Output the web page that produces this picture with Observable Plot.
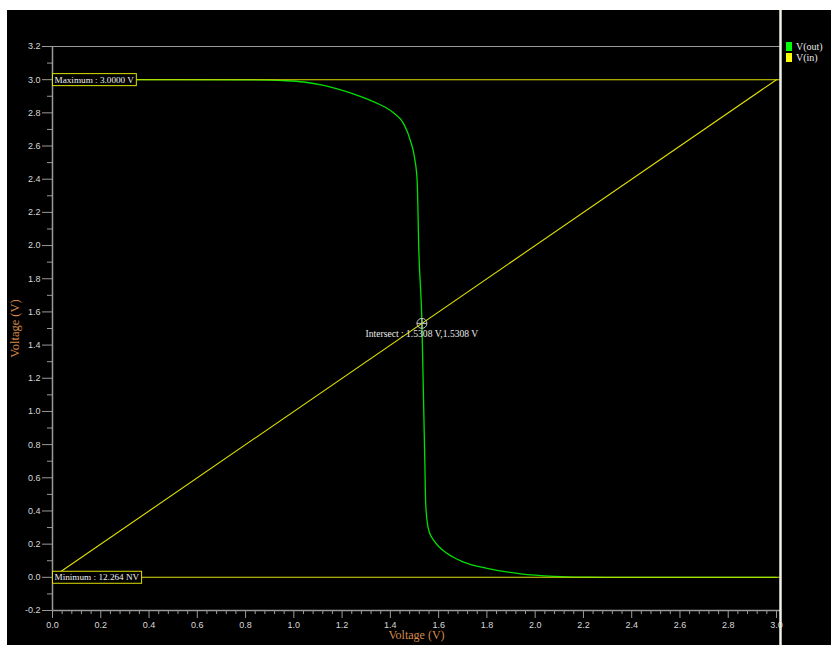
<!DOCTYPE html>
<html><head><meta charset="utf-8">
<script src="https://cdn.jsdelivr.net/npm/d3@7"></script>
<script src="https://cdn.jsdelivr.net/npm/@observablehq/plot@0.6"></script>
<style>
body{margin:0;background:#fff;}
#wrap{position:relative;width:831px;height:645px;overflow:hidden;background:#fff;}
#chart{position:absolute;left:7px;top:10px;}
#legend{position:absolute;left:786px;top:41px;font-family:"Liberation Serif",serif;font-size:10px;color:#e8e8e8;}
.item{display:flex;align-items:center;height:11px;}
.sw{width:6px;height:9px;margin-right:4px;}
</style></head><body>
<div id="wrap"><div id="chart"></div><div id="legend"></div></div>
<script>
// ---- data ----
const vinSweep   = [0.0, 0.5, 0.8, 0.958, 1.041, 1.124, 1.18, 1.249, 1.318, 1.373, 1.414, 1.456, 1.483, 1.500, 1.511, 1.518, 1.5308, 1.537, 1.543, 1.546, 1.553, 1.562, 1.58, 1.636, 1.704, 1.80, 1.94, 2.08, 2.2, 2.3, 3.0];
const voutValues = [3.0, 3.0, 2.999, 2.994, 2.986, 2.965, 2.944, 2.913, 2.875, 2.838, 2.799, 2.732, 2.633, 2.532, 2.392, 1.97, 1.5308, 1.1, 0.685, 0.46, 0.33, 0.27, 0.223, 0.143, 0.092, 0.054, 0.021, 0.006, 0.001, 0.0, 0.0];
const vinLineX = [0.0, 3.0];
const vinLineY = [0.0, 3.0];
const seriesNames = ["V(out)", "V(in)"];
const seriesColors = ["#00e000", "#e0e000"];
const legendColors = ["#00ff00", "#ffff00"];
const yTicks = [-0.2, 0.0, 0.2, 0.4, 0.6, 0.8, 1.0, 1.2, 1.4, 1.6, 1.8, 2.0, 2.2, 2.4, 2.6, 2.8, 3.0, 3.2];
const xTicks = [0.0, 0.2, 0.4, 0.6, 0.8, 1.0, 1.2, 1.4, 1.6, 1.8, 2.0, 2.2, 2.4, 2.6, 2.8, 3.0];
const yMinorTicks = d3.range(-1, 32, 2).map(i => i / 10);
const xMinorTicks = d3.range(0, 76).filter(i => i % 5 !== 0).map(i => i * 0.04);
const xDomain = [0, 3.0166];
const yDomain = [-0.2, 3.2];
const maxValue = 3.0, minValue = 12.264e-9;
const maxLabel = "Maximum : 3.0000 V";
const minLabel = "Minimum : 12.264 NV";
const intersect = {x: 1.5308, y: 1.5308, label: "Intersect : 1.5308 V,1.5308 V"};
const axisLabel = "Voltage (V)";

const voutData = vinSweep.map((v, i) => ({x: v, y: voutValues[i]}));
const vinData = vinLineX.map((v, i) => ({x: v, y: vinLineY[i]}));

const crosshair = {
  draw(ctx, size) {
    const r = Math.sqrt(size / Math.PI);
    ctx.moveTo(r, 0); ctx.arc(0, 0, r, 0, 2 * Math.PI);
    ctx.moveTo(-r, 0); ctx.lineTo(r, 0);
    ctx.moveTo(0, -r); ctx.lineTo(0, r);
  }
};

const axisColor = "#9a9a9a", labelColor = "#d8d8d8", orange = "#d4894a";
const fmt = d => d.toFixed(1);
const serif = "'Liberation Serif', 'Times New Roman', serif";

const plot = Plot.plot({
  width: 824, height: 635,
  marginLeft: 45, marginRight: 51, marginTop: 36, marginBottom: 35,
  style: {background: "black", fontFamily: "'Liberation Sans', Arial, sans-serif", fontSize: "9px", color: labelColor},
  x: {domain: xDomain, label: null},
  y: {domain: yDomain, label: null},
  marks: [
    // frame
    Plot.ruleY([yDomain[1]], {stroke: axisColor, strokeWidth: 1}),
    Plot.ruleY([yDomain[0]], {stroke: axisColor, strokeWidth: 1.5}),
    Plot.ruleX([xDomain[0]], {stroke: axisColor, strokeWidth: 1.5}),
    // axes
    Plot.axisY(yTicks, {tickSize: 10, tickPadding: 2, tickFormat: fmt, stroke: axisColor, fill: labelColor, label: null}),
    Plot.axisY(yMinorTicks, {tickSize: 5, tickFormat: () => "", stroke: axisColor, label: null}),
    Plot.axisX(xTicks, {tickSize: 8, tickPadding: 3, tickFormat: fmt, stroke: axisColor, fill: labelColor, label: null}),
    Plot.axisX(xMinorTicks, {tickSize: 4, tickFormat: () => "", stroke: axisColor, label: null}),
    // series
    Plot.line(voutData, {x: "x", y: "y", stroke: seriesColors[0], strokeWidth: 1.3, curve: "monotone-x"}),
    Plot.line(vinData, {x: "x", y: "y", stroke: seriesColors[1], strokeWidth: 1.1}),
    // max/min markers
    Plot.ruleY([maxValue, minValue], {stroke: seriesColors[1], strokeWidth: 1.1}),
    Plot.text([maxLabel], {x: xDomain[0], y: maxValue, text: d => d, textAnchor: "start", dx: 2, lineAnchor: "middle", fill: "#f0f0f0", fontFamily: serif, fontSize: 9.2}),
    Plot.text([minLabel], {x: xDomain[0], y: minValue, text: d => d, textAnchor: "start", dx: 2, lineAnchor: "middle", fill: "#f0f0f0", fontFamily: serif, fontSize: 9.2}),
    // intersect
    Plot.dot([intersect], {x: "x", y: "y", r: 5, symbol: crosshair, stroke: "#c8c8c8", strokeWidth: 1, fill: "none"}),
    Plot.text([intersect], {x: "x", y: "y", text: "label", dy: 11, lineAnchor: "middle", fill: "#e8e8e8", fontFamily: serif, fontSize: 9.6}),
    // right cursor line
    Plot.ruleX([xDomain[1]], {stroke: "#f0f0e8", strokeWidth: 2.5, insetTop: -36, insetBottom: -35}),
    // axis labels
    Plot.text([axisLabel], {frameAnchor: "bottom", dy: 25, textAnchor: "middle", lineAnchor: "middle", fill: orange, fontFamily: serif, fontSize: 12}),
    Plot.text([axisLabel], {frameAnchor: "left", dx: -38, rotate: -90, textAnchor: "middle", lineAnchor: "middle", fill: orange, fontFamily: serif, fontSize: 12.5})
  ]
});
document.getElementById("chart").append(plot);

// boxes behind max/min labels
plot.querySelectorAll("text").forEach(t => {
  if (t.textContent === maxLabel || t.textContent === minLabel) {
    const b = t.getBBox();
    const h = 12;
    const r = document.createElementNS("http://www.w3.org/2000/svg", "rect");
    r.setAttribute("x", b.x - 2); r.setAttribute("y", b.y + b.height / 2 - h / 2);
    r.setAttribute("width", b.width + 4); r.setAttribute("height", h);
    r.setAttribute("fill", "black"); r.setAttribute("stroke", seriesColors[1]); r.setAttribute("stroke-width", 1);
    if (t.getAttribute("transform")) r.setAttribute("transform", t.getAttribute("transform"));
    t.parentNode.insertBefore(r, t);
  }
});

// legend
const legend = document.getElementById("legend");
seriesNames.forEach((n, i) => {
  const it = document.createElement("div"); it.className = "item";
  const sw = document.createElement("span"); sw.className = "sw"; sw.style.background = legendColors[i];
  const tx = document.createElement("span"); tx.textContent = n;
  it.append(sw, tx); legend.append(it);
});
</script>
</body></html>
